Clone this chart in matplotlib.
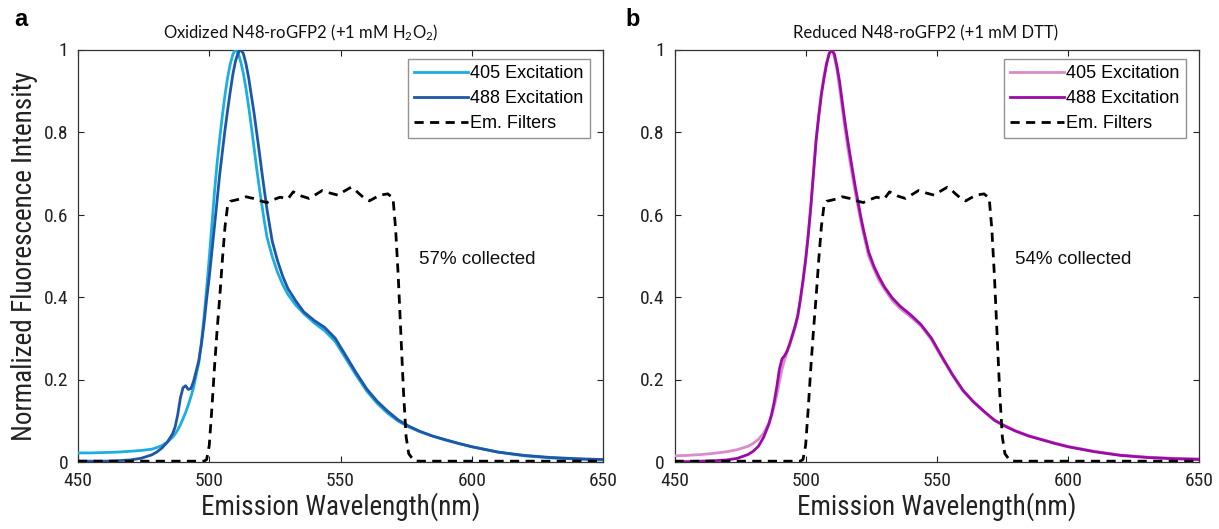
import matplotlib
matplotlib.use("Agg")
import matplotlib.pyplot as plt
from matplotlib import font_manager

# ---- data -------------------------------------------------------------
wavelength = [450, 455, 460, 465, 470, 474, 478, 480, 482, 484, 486, 487, 488, 489, 490,
              491, 492, 493, 494, 496, 497, 498, 499, 500, 501, 502, 503, 504, 505, 506,
              507, 508, 509, 510, 511, 512, 513, 514, 515, 516, 517, 518, 519, 520, 521,
              522, 524, 526, 528, 530, 533, 536, 540, 544, 548, 552, 556, 560, 564, 568,
              572, 576, 580, 585, 590, 595, 600, 610, 620, 630, 640, 650]

ox_405 = [0.022, 0.022, 0.023, 0.024, 0.026, 0.028, 0.031, 0.035, 0.040, 0.048, 0.060, 0.068,
          0.078, 0.090, 0.105, 0.120, 0.138, 0.158, 0.180, 0.240, 0.290, 0.350, 0.420, 0.495,
          0.575, 0.655, 0.725, 0.785, 0.840, 0.890, 0.932, 0.965, 0.988, 1.000, 0.992, 0.970,
          0.942, 0.905, 0.862, 0.815, 0.765, 0.715, 0.668, 0.625, 0.583, 0.545, 0.498, 0.460,
          0.430, 0.406, 0.380, 0.360, 0.337, 0.318, 0.292, 0.251, 0.210, 0.172, 0.142, 0.118,
          0.099, 0.085, 0.074, 0.063, 0.053, 0.045, 0.037, 0.024, 0.015, 0.010, 0.007, 0.005]

ox_488 = [0.002, 0.002, 0.002, 0.003, 0.005, 0.009, 0.017, 0.024, 0.034, 0.048, 0.068, 0.085,
          0.115, 0.155, 0.180, 0.185, 0.176, 0.178, 0.195, 0.245, 0.285, 0.335, 0.395, 0.448,
          0.510, 0.572, 0.635, 0.698, 0.752, 0.805, 0.853, 0.898, 0.940, 0.972, 0.992, 1.000,
          0.990, 0.965, 0.932, 0.890, 0.849, 0.802, 0.755, 0.705, 0.658, 0.612, 0.535, 0.488,
          0.450, 0.420, 0.390, 0.364, 0.343, 0.326, 0.300, 0.258, 0.216, 0.177, 0.147, 0.123,
          0.102, 0.087, 0.075, 0.063, 0.054, 0.045, 0.037, 0.024, 0.016, 0.011, 0.008, 0.006]

red_405 = [0.015, 0.016, 0.018, 0.021, 0.025, 0.030, 0.038, 0.045, 0.055, 0.070, 0.095, 0.112,
           0.135, 0.162, 0.195, 0.225, 0.248, 0.268, 0.285, 0.325, 0.352, 0.392, 0.438, 0.490,
           0.552, 0.622, 0.702, 0.780, 0.842, 0.895, 0.935, 0.968, 0.992, 1.000, 0.982, 0.948,
           0.905, 0.855, 0.808, 0.765, 0.725, 0.688, 0.652, 0.618, 0.585, 0.555, 0.500, 0.468,
           0.440, 0.420, 0.392, 0.372, 0.352, 0.330, 0.296, 0.252, 0.210, 0.172, 0.145, 0.122,
           0.102, 0.088, 0.076, 0.064, 0.055, 0.046, 0.038, 0.026, 0.017, 0.012, 0.009, 0.008]

red_488 = [0.001, 0.001, 0.002, 0.003, 0.005, 0.009, 0.018, 0.026, 0.038, 0.060, 0.092, 0.115,
           0.145, 0.182, 0.225, 0.250, 0.258, 0.270, 0.288, 0.330, 0.355, 0.395, 0.440, 0.490,
           0.550, 0.620, 0.700, 0.780, 0.838, 0.890, 0.930, 0.965, 0.990, 1.000, 0.988, 0.958,
           0.920, 0.872, 0.825, 0.782, 0.742, 0.703, 0.665, 0.630, 0.596, 0.565, 0.510, 0.475,
           0.448, 0.425, 0.398, 0.378, 0.357, 0.333, 0.300, 0.255, 0.212, 0.174, 0.146, 0.123,
           0.101, 0.087, 0.075, 0.063, 0.054, 0.045, 0.037, 0.025, 0.016, 0.011, 0.008, 0.006]

filter_wl = [450, 498, 499, 500, 501, 502, 503, 504, 505, 506, 507, 508, 510, 512, 514, 516,
             518, 520, 522, 524, 527, 530, 532, 535, 538, 541, 543, 546, 549, 551, 554, 555,
             557, 559, 561, 563, 565, 568, 570, 571, 572, 573, 574, 575, 576, 578, 580, 650]
filter_tr = [0.002, 0.002, 0.006, 0.04, 0.13, 0.23, 0.32, 0.40, 0.49, 0.57, 0.622, 0.632,
             0.635, 0.638, 0.643, 0.640, 0.638, 0.632, 0.629, 0.635, 0.642, 0.638, 0.655, 0.645,
             0.639, 0.650, 0.658, 0.652, 0.647, 0.655, 0.666, 0.663, 0.651, 0.640, 0.633, 0.640,
             0.647, 0.650, 0.640, 0.565, 0.450, 0.310, 0.170, 0.061, 0.020, 0.003, 0.002, 0.002]

titles = ["Oxidized N48-roGFP2 (+1 mM H$_2$O$_2$)", "Reduced N48-roGFP2 (+1 mM DTT)"]
collected = ["57% collected", "54% collected"]
panel_letters = ["a", "b"]
series_labels = ["405 Excitation", "488 Excitation", "Em. Filters"]
x_ticks = [450, 500, 550, 600, 650]
y_ticks = [0, 0.2, 0.4, 0.6, 0.8, 1]
y_ticklabels = ["0", "0.2", "0.4", "0.6", "0.8", "1"]

# ---- styling ----------------------------------------------------------
installed = {f.name for f in font_manager.fontManager.ttflist}
narrow = [f for f in ["Roboto Condensed", "Liberation Sans Narrow", "Open Sans Condensed"]
          if f in installed]
cond_family = narrow + ["Liberation Sans", "DejaVu Sans"]
plain_family = ["Liberation Sans", "DejaVu Sans"]
title_family = [f for f in ["Lato"] if f in installed] + plain_family

plt.rcParams["font.family"] = cond_family
plt.rcParams["mathtext.fontset"] = "custom"
plt.rcParams["mathtext.rm"] = title_family[0]
plt.rcParams["mathtext.it"] = title_family[0]

colors = [("#1aaee2", "#1f56a6"), ("#d98bca", "#9c0aa8")]
spectra = [(ox_405, ox_488), (red_405, red_488)]

fig = plt.figure(figsize=(12.19, 5.29), dpi=100)
W, H = 1219, 529
axes_px = [(78, 603), (674.5, 1199)]
title_x = [301, 926]
letter_x = [14, 625]
y_top, y_bot = 49.5, 462

for i, (x0, x1) in enumerate(axes_px):
    ax = fig.add_axes([x0 / W, (H - y_bot) / H, (x1 - x0) / W, (y_bot - y_top) / H])
    c405, c488 = colors[i]
    s405, s488 = spectra[i]
    ax.plot(wavelength, s405, color=c405, lw=2.0, label=series_labels[0], zorder=3)
    ax.plot(wavelength, s488, color=c488, lw=2.0, label=series_labels[1], zorder=4)
    ax.plot(filter_wl, filter_tr, color="black", lw=2.0, linestyle=(0, (3.3, 2.3)),
            label=series_labels[2], zorder=5)

    ax.set_xlim(450, 650)
    ax.set_ylim(0, 1)
    ax.set_xticks(x_ticks)
    ax.set_yticks(y_ticks)
    ax.set_yticklabels(y_ticklabels)
    ax.tick_params(direction="in", top=True, right=True, length=4, width=0.8,
                   labelsize=14, pad=7, colors="#222222")
    for sp in ax.spines.values():
        sp.set_linewidth(0.9)
        sp.set_color("#333333")

    ax.set_xlabel("Emission Wavelength(nm)", fontsize=19.5, labelpad=2, color="#222222")
    if i == 0:
        ax.set_ylabel("Normalized Fluorescence Intensity", fontsize=19.5, labelpad=4,
                      color="#222222")

    leg = ax.legend(loc="upper right", bbox_to_anchor=(0.975, 0.978),
                    handlelength=3.0, handletextpad=0.1, labelspacing=0.45,
                    borderpad=0.35, borderaxespad=0.0, fancybox=False, frameon=True,
                    prop={"family": plain_family, "size": 13})
    leg.get_frame().set_edgecolor("#777777")
    leg.get_frame().set_linewidth(1.0)

    ax.text(580, 0.49, collected[i], fontsize=13.5, family=plain_family,
            va="center", ha="left", color="#111111")

    fig.text(title_x[i] / W, 1 - 33 / H, titles[i], fontsize=12, family=title_family,
             ha="center", va="center", color="#111111")
    fig.text(letter_x[i] / W, 1 - 20 / H, panel_letters[i], fontsize=17,
             fontweight="bold", family=plain_family, va="center", ha="left")

fig.savefig("out.png", dpi=100)
